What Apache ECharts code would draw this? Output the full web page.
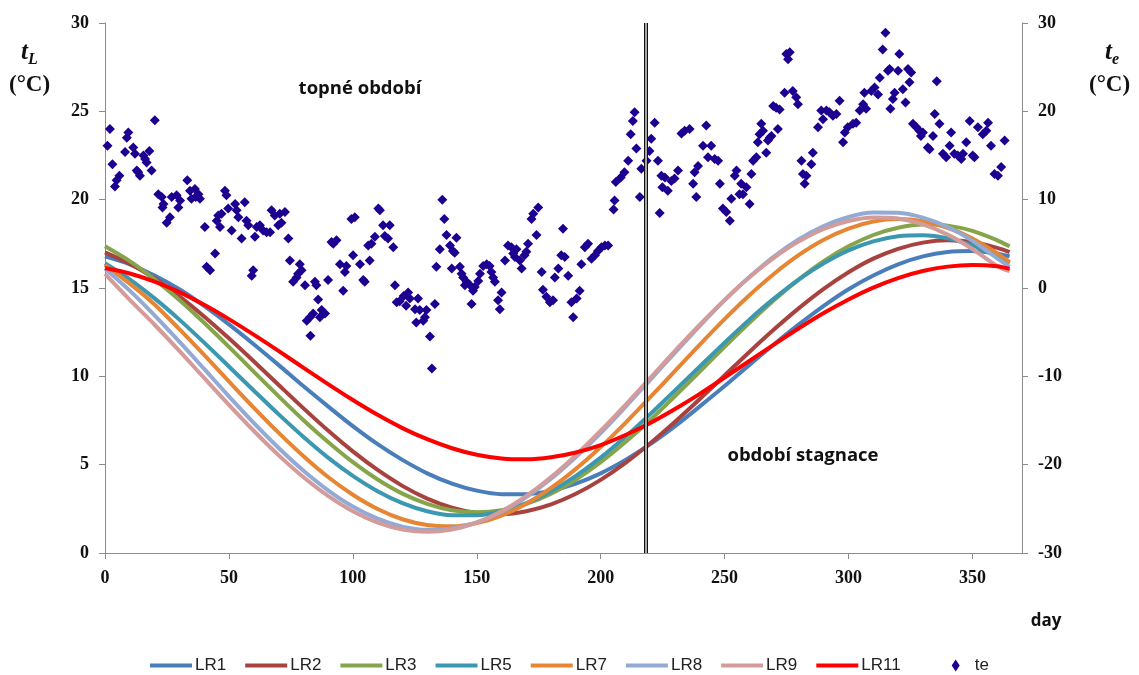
<!DOCTYPE html>
<html>
<head>
<meta charset="utf-8">
<script src="https://cdn.jsdelivr.net/npm/echarts@6/dist/echarts.min.js"></script>
<style>
html,body{margin:0;padding:0;background:#fff;}
#chart{width:1139px;height:675px;}
</style>
</head>
<body>
<div id="chart"></div>
<script>
// ---- data ----
const lineDays = [0,10,20,30,40,50,60,70,80,90,100,110,120,130,140,150,160,170,180,190,200,210,220,230,240,250,260,270,280,290,300,310,320,330,340,350,360,365];
const LR1  = [16.79,16.34,15.71,14.93,13.99,12.94,11.82,10.65,9.45,8.30,7.18,6.16,5.27,4.51,3.93,3.53,3.33,3.33,3.53,3.93,4.51,5.27,6.16,7.18,8.30,9.45,10.65,11.82,12.94,13.99,14.93,15.71,16.34,16.79,17.04,17.09,16.94,16.79];
const LR2  = [17.02,16.37,15.54,14.53,13.39,12.15,10.85,9.52,8.20,6.93,5.75,4.70,3.80,3.08,2.57,2.27,2.20,2.36,2.75,3.35,4.14,5.10,6.21,7.43,8.72,10.05,11.38,12.66,13.86,14.95,15.89,16.66,17.22,17.57,17.70,17.60,17.27,17.03];
const LR3  = [17.36,16.52,15.49,14.32,13.03,11.67,10.27,8.88,7.53,6.28,5.14,4.16,3.36,2.78,2.42,2.30,2.42,2.78,3.36,4.16,5.14,6.28,7.53,8.88,10.27,11.67,13.03,14.32,15.49,16.52,17.36,18.00,18.41,18.59,18.53,18.23,17.70,17.36];
const LR5  = [16.40,15.49,14.41,13.21,11.91,10.56,9.20,7.86,6.58,5.40,4.37,3.50,2.82,2.36,2.13,2.13,2.36,2.82,3.50,4.37,5.40,6.58,7.86,9.20,10.56,11.91,13.21,14.41,15.49,16.40,17.13,17.64,17.93,17.99,17.82,17.41,16.79,16.40];
const LR7  = [16.30,15.25,14.07,12.67,11.21,9.71,8.23,6.81,5.49,4.30,3.30,2.49,1.91,1.58,1.51,1.69,2.12,2.79,3.68,4.76,6.00,7.37,8.82,10.31,11.80,13.24,14.59,15.81,16.87,17.73,18.36,18.76,18.90,18.78,18.41,17.80,16.96,16.47];
const LR8  = [16.11,14.85,13.45,11.96,10.42,8.87,7.37,5.96,4.67,3.55,2.63,1.94,1.49,1.31,1.39,1.73,2.32,3.16,4.20,5.43,6.79,8.27,9.80,11.34,12.86,14.30,15.62,16.79,17.76,18.51,19.02,19.27,19.26,18.98,18.45,17.67,16.68,16.20];
const LR9  = [15.80,14.33,12.92,11.44,9.91,8.39,6.92,5.54,4.30,3.23,2.36,1.72,1.33,1.20,1.33,1.72,2.36,3.23,4.30,5.54,6.92,8.39,9.91,11.44,12.92,14.33,15.61,16.72,17.64,18.34,18.79,18.99,18.93,18.60,18.02,17.21,16.25,15.95];
const LR11 = [16.13,15.82,15.36,14.77,14.05,13.24,12.36,11.44,10.49,9.56,8.66,7.82,7.07,6.44,5.93,5.56,5.35,5.30,5.42,5.69,6.11,6.68,7.36,8.15,9.01,9.93,10.87,11.81,12.72,13.58,14.35,15.02,15.56,15.96,16.21,16.30,16.23,16.08];

// outdoor temperature te: [day, value]
const te = [
[1.0,16.1],[2.0,18.0],[3.0,14.0],[4.0,11.5],[4.7,12.2],[5.8,12.7],[8.1,15.4],[8.8,17.0],[9.4,17.6],[11.4,15.9],
[12.1,15.2],[12.8,13.3],[13.4,13.1],[14.1,12.7],[15.5,15.0],[16.2,14.6],[16.8,14.2],[17.9,15.5],[18.8,13.3],[20.1,19.0],
[21.5,10.6],[22.9,10.3],[23.2,9.1],[23.6,9.5],[24.9,7.4],[26.2,8.0],[26.9,10.3],[28.9,10.5],[29.6,9.1],[30.3,9.9],
[33.2,12.2],[34.3,11.0],[34.9,10.1],[36.3,11.2],[36.6,10.3],[37.7,10.6],[38.3,10.1],[40.3,6.9],[41.0,2.4],[42.4,2.0],
[44.4,3.9],[45.1,7.6],[45.7,8.2],[46.4,6.9],[47.0,8.4],[48.4,11.0],[49.0,10.5],[49.7,9.0],[51.1,6.5],[52.5,9.5],
[53.1,8.8],[53.8,8.0],[55.1,5.6],[56.4,9.7],[57.1,7.6],[57.8,7.1],[59.2,1.4],[59.8,2.0],[60.5,5.8],[61.2,6.9],
[62.5,7.1],[63.8,6.5],[65.2,6.3],[66.6,6.3],[67.2,8.8],[68.5,8.2],[69.9,7.1],[70.5,8.4],[71.2,7.4],[72.6,8.6],
[74.0,5.6],[74.6,3.1],[75.9,0.7],[77.3,1.2],[77.9,1.6],[78.6,2.7],[79.3,2.0],[80.7,0.3],[81.4,-3.7],[82.7,-3.3],
[82.9,-5.4],[84.0,-2.9],[84.7,0.7],[85.3,0.3],[86.0,-1.3],[86.7,-3.3],[87.4,-2.5],[88.8,-2.9],[90.0,0.9],[91.4,5.2],
[92.1,5.0],[93.4,5.4],[94.8,2.7],[96.1,-0.3],[96.8,1.8],[97.4,2.5],[99.4,7.8],[100.1,3.7],[100.8,8.0],[102.9,2.7],
[104.2,0.9],[104.8,0.7],[106.2,4.8],[106.8,3.1],[107.5,5.0],[108.9,5.8],[110.3,9.0],[110.9,8.8],[112.2,7.1],[112.9,5.9],
[114.2,5.6],[114.9,7.1],[116.3,4.6],[117.0,0.3],[117.7,-1.6],[118.9,-1.5],[120.5,-0.9],[121.5,-2.0],[122.3,-0.5],[123.0,-1.2],
[125.1,-2.4],[125.6,-3.9],[126.3,-1.2],[127.0,-2.5],[128.4,-3.7],[129.1,-3.3],[129.7,-2.5],[131.1,-5.5],[131.9,-9.1],[133.1,-1.8],
[133.7,2.4],[135.1,4.4],[136.1,10.0],[136.9,7.8],[137.8,6.0],[139.2,4.8],[139.9,2.2],[140.4,4.2],[141.1,4.0],[141.8,5.7],
[143.2,2.4],[143.9,1.6],[144.5,1.2],[145.2,0.3],[145.9,0.7],[147.3,0.3],[147.9,-1.8],[148.5,-0.3],[149.2,0.1],[150.6,0.8],
[151.3,1.6],[152.6,2.5],[154.0,2.7],[155.2,2.5],[155.9,1.8],[156.6,1.2],[157.3,0.7],[158.6,-1.4],[159.3,-2.4],[160.0,-0.5],
[161.4,3.1],[162.6,4.8],[164.0,4.6],[164.7,3.9],[165.4,3.5],[166.0,4.4],[167.4,3.1],[168.1,2.2],[169.3,3.7],[170.0,4.1],
[170.7,5.0],[172.1,7.8],[172.8,8.4],[174.1,6.0],[174.8,9.1],[176.2,1.8],[176.7,-0.2],[178.1,-1.0],[179.5,-1.6],[180.8,-1.4],
[181.5,1.2],[182.9,2.2],[184.1,3.7],[184.8,6.7],[185.5,3.5],[186.9,1.4],[188.2,-1.6],[188.9,-3.3],[190.3,-1.2],[191.5,-0.3],
[192.2,2.7],[193.6,4.6],[194.9,5.0],[196.3,3.3],[197.7,3.7],[198.9,4.2],[200.3,4.6],[201.7,4.8],[203.0,4.8],[205.2,8.9],
[205.6,9.9],[206.1,12.0],[208.1,12.5],[209.6,13.1],[211.1,14.4],[212.1,17.4],[213.0,18.9],[213.7,19.9],[214.4,15.8],[215.8,10.3],
[216.4,13.5],[218.5,14.4],[219.7,15.5],[220.4,16.9],[221.8,18.7],[223.1,14.4],[223.8,8.5],[224.5,12.7],[224.9,11.4],[225.9,12.5],
[227.1,11.0],[228.5,12.1],[229.8,12.4],[231.2,13.3],[232.6,17.5],[233.9,17.8],[235.9,18.0],[237.3,11.8],[237.9,13.1],[238.6,10.3],
[239.3,13.8],[241.3,16.1],[242.6,18.4],[243.3,14.8],[244.6,16.1],[246.0,14.6],[247.4,14.4],[248.1,11.8],[249.3,9.0],[250.7,8.6],
[252.1,7.6],[252.7,10.1],[254.1,12.7],[254.8,13.3],[256.0,10.6],[256.7,11.8],[257.4,10.6],[258.8,11.4],[260.1,9.5],[260.8,12.9],
[261.5,14.4],[262.8,14.8],[263.4,16.5],[264.1,17.4],[264.8,18.6],[265.5,17.8],[266.8,15.3],[267.5,16.7],[268.2,17.0],[268.9,17.2],
[269.6,20.6],[270.8,20.4],[271.5,18.0],[272.2,20.2],[274.2,22.1],[274.9,26.5],[275.6,25.9],[276.3,26.7],[277.5,22.3],[278.9,21.6],
[279.6,20.8],[281.0,14.4],[281.6,12.9],[282.3,11.8],[283.0,12.7],[285.0,14.0],[285.6,15.3],[287.7,18.2],[289.0,20.1],[289.7,19.1],
[291.1,20.1],[292.3,19.9],[293.7,19.5],[295.1,19.7],[296.4,21.2],[297.8,16.5],[298.5,17.6],[299.7,18.2],[301.8,18.6],[303.1,18.7],
[304.5,20.1],[305.9,20.8],[306.4,22.1],[307.1,20.3],[309.2,22.3],[310.5,22.7],[311.9,21.9],[312.6,23.8],[313.8,27.0],[314.9,28.9],
[315.9,24.6],[316.6,24.8],[316.9,20.3],[317.9,21.4],[318.6,22.1],[320.0,24.6],[320.5,26.5],[321.9,22.5],[323.0,21.0],[324.0,24.8],
[324.6,23.3],[325.3,24.4],[326.0,18.6],[327.4,18.2],[328.6,17.8],[329.2,17.2],[330.0,17.6],[332.0,15.9],[332.7,15.7],[334.1,17.2],
[334.8,19.7],[335.6,23.4],[336.7,18.6],[338.1,15.2],[339.4,14.8],[340.8,16.1],[341.4,17.6],[342.7,15.2],[344.1,15.0],[345.5,14.6],
[346.2,15.2],[347.5,16.5],[348.9,18.9],[350.1,15.0],[350.8,14.8],[352.2,18.2],[354.2,17.4],[355.6,17.8],[356.3,18.7],[357.5,16.1],
[358.9,12.9],[360.3,12.7],[361.6,13.7],[363.0,16.7]
];

const lineNames  = ['LR1','LR2','LR3','LR5','LR7','LR8','LR9','LR11'];
const lineValues = [LR1, LR2, LR3, LR5, LR7, LR8, LR9, LR11];
const lineColors = ['#4A7EBB','#A8423F','#86A44A','#3C97B0','#E68634','#93AAD5','#D39B9A','#FF0000'];
const xTicks = {min: 0, max: 370, interval: 50};
const tLTicks = {min: 0, max: 30, interval: 5};
const teTicks = {min: -30, max: 30, interval: 10};
const boundaryDay = 218;

// ---- chart ----
const serif = "'Liberation Serif','Times New Roman',serif";
const sans = "'Liberation Sans Narrow','Liberation Sans',Arial,sans-serif";
const boldFont = "'Open Sans',Lato,sans-serif";
const lineIcon = 'path://M0,0 L40,0 L40,4 L0,4 Z';
const diamondIcon = 'path://M0,0 L0.01,0 L0,0.01 Z M42,14 L41.99,14 L42,13.99 Z M36,1 L40,7 L36,13 L32,7 Z';

const series = lineNames.map((n, i) => ({
  name: n, type: 'line', xAxisIndex: 0, yAxisIndex: 0,
  data: lineDays.map((d, k) => [d, lineValues[i][k]]),
  smooth: 0.3, symbol: 'none',
  lineStyle: {width: 4, color: lineColors[i]}, itemStyle: {color: lineColors[i]},
  z: 3
}));
series[0].markLine = {
  silent: true, symbol: ['none','none'], label: {show: false},
  data: [
    {xAxis: boundaryDay, lineStyle: {color: '#111', width: 4, type: 'solid'}},
    {xAxis: boundaryDay, lineStyle: {color: '#d8d8d8', width: 1.5, type: 'solid'}}
  ]
};
series.push({
  name: 'te', type: 'scatter', xAxisIndex: 0, yAxisIndex: 1,
  data: te, symbol: 'diamond', symbolSize: [10, 10],
  itemStyle: {color: '#1E0091', opacity: 1}, z: 4
});

const chart = echarts.init(document.getElementById('chart'), null, {renderer: 'canvas'});
chart.setOption({
  animation: false,
  backgroundColor: '#fff',
  grid: {left: 105, right: 117, top: 23, bottom: 122, containLabel: false},
  xAxis: {
    type: 'value', min: xTicks.min, max: xTicks.max, interval: xTicks.interval,
    axisLine: {show: true, lineStyle: {color: '#8c8c8c', width: 1}},
    axisTick: {show: true, inside: false, length: 6, lineStyle: {color: '#8c8c8c'}},
    axisLabel: {showMaxLabel: false, margin: 16, fontFamily: serif, fontWeight: 'bold', fontSize: 18, color: '#111'},
    splitLine: {show: false}
  },
  yAxis: [{
    type: 'value', position: 'left', min: tLTicks.min, max: tLTicks.max, interval: tLTicks.interval,
    axisLine: {show: true, lineStyle: {color: '#8c8c8c'}},
    axisTick: {show: true, length: 6, lineStyle: {color: '#8c8c8c'}},
    axisLabel: {margin: 16, fontFamily: serif, fontWeight: 'bold', fontSize: 18, color: '#111'},
    splitLine: {show: false}
  }, {
    type: 'value', position: 'right', min: teTicks.min, max: teTicks.max, interval: teTicks.interval,
    axisLine: {show: true, lineStyle: {color: '#8c8c8c'}},
    axisTick: {show: true, length: 6, lineStyle: {color: '#8c8c8c'}},
    axisLabel: {margin: 16, fontFamily: serif, fontWeight: 'bold', fontSize: 18, color: '#111'},
    splitLine: {show: false}
  }],
  legend: {
    top: 652, left: 145, itemWidth: 42, itemHeight: 14, itemGap: 19,
    textStyle: {fontFamily: sans, fontSize: 17, color: '#222', padding: [0, 0, 0, -2]},
    data: lineNames.map(n => ({name: n, icon: lineIcon})).concat([
      {name: 'te', icon: diamondIcon, textStyle: {padding: [0, 0, 0, 8]}}
    ])
  },
  graphic: [
    {type: 'text', left: 21, top: 40, style: {
      text: '{t|t}{s|L}', rich: {
        t: {fontFamily: serif, fontStyle: 'italic', fontWeight: 'bold', fontSize: 25, fill: '#111'},
        s: {fontFamily: serif, fontStyle: 'italic', fontWeight: 'bold', fontSize: 16, fill: '#111', padding: [14, 0, 0, 0]}
      }}},
    {type: 'text', left: 9, top: 74, style: {text: '(°C)', fontFamily: serif, fontWeight: 'bold', fontSize: 23, fill: '#111'}},
    {type: 'text', left: 1105, top: 40, style: {
      text: '{t|t}{s|e}', rich: {
        t: {fontFamily: serif, fontStyle: 'italic', fontWeight: 'bold', fontSize: 25, fill: '#111'},
        s: {fontFamily: serif, fontStyle: 'italic', fontWeight: 'bold', fontSize: 16, fill: '#111', padding: [14, 0, 0, 0]}
      }}},
    {type: 'text', left: 1089, top: 74, style: {text: '(°C)', fontFamily: serif, fontWeight: 'bold', fontSize: 23, fill: '#111'}},
    {type: 'text', x: 360, y: 89, style: {text: 'topné období', fontFamily: boldFont, fontWeight: 'bold', fontSize: 18.5, fill: '#111', align: 'center', verticalAlign: 'middle'}},
    {type: 'text', x: 803, y: 456, style: {text: 'období stagnace', fontFamily: boldFont, fontWeight: 'bold', fontSize: 18.5, fill: '#111', align: 'center', verticalAlign: 'middle'}},
    {type: 'text', x: 1046, y: 621, style: {text: 'day', fontFamily: boldFont, fontWeight: 'bold', fontSize: 17, fill: '#111', align: 'center', verticalAlign: 'middle'}}
  ],
  series: series
});
</script>
</body>
</html>
